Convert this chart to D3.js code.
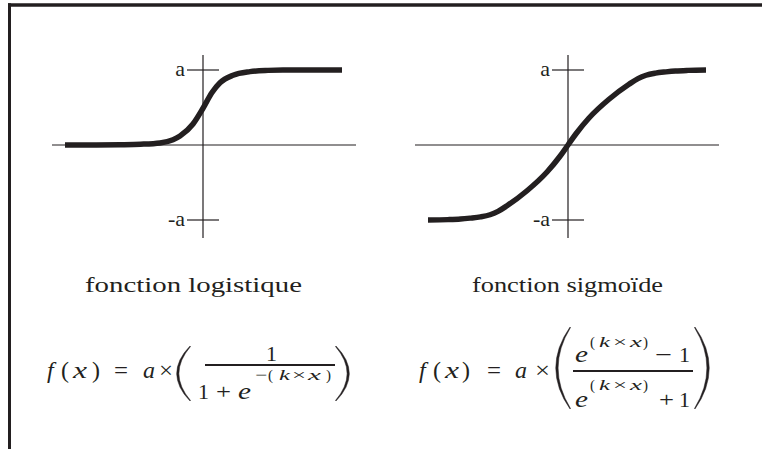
<!DOCTYPE html>
<html lang="fr">
<head>
<meta charset="utf-8">
<script src="https://d3js.org/d3.v7.min.js"></script>
<style>
  body { margin: 0; background: #fff; }
  text { font-family: "Liberation Serif", "Times New Roman", serif; fill: #231f20; }
  .it { font-style: italic; }
</style>
</head>
<body>
<div id="chart"></div>
<script>
// courbes (x en unités, y en fraction de a)
const logX = [-5.52, -4.4, -3.32, -2.5, -1.72, -1.2, -0.92, -0.4, 0, 0.36, 0.68, 1.2, 1.88, 2.6, 3.2, 5.56];
const logY = [0, 0.001, 0.004, 0.01, 0.027, 0.07, 0.12, 0.28, 0.49, 0.7, 0.83, 0.93, 0.978, 0.995, 1, 1];
const sigX = [-5.6, -4.8, -4.3, -3.92, -3.5, -3.12, -2.8, -2.44, -1.64, -0.84, -0.32, 0, 0.32, 0.84, 1.64, 2.44, 2.8, 3.12, 3.5, 3.92, 4.3, 4.8, 5.52];
const sigY = [-1, -0.995, -0.987, -0.975, -0.958, -0.93, -0.885, -0.81, -0.61, -0.36, -0.15, 0, 0.15, 0.36, 0.61, 0.81, 0.885, 0.93, 0.958, 0.975, 0.987, 0.995, 1];
const tickVals = [1, -1];
const tickLabels = ["a", "-a"];
const titles = ["fonction logistique", "fonction sigmoïde"];

const width = 762, height = 449;
const ink = "#231f20";

const svg = d3.select("#chart").append("svg")
  .attr("width", width)
  .attr("height", height);

// cadre (haut et gauche seulement)
svg.append("line").attr("x1", 8).attr("x2", width).attr("y1", 5).attr("y2", 5)
  .style("stroke", ink).style("stroke-width", 3.4);
svg.append("line").attr("x1", 9.5).attr("x2", 9.5).attr("y1", 3.3).attr("y2", height)
  .style("stroke", ink).style("stroke-width", 3);

const y = d3.scaleLinear().domain([-1, 1]).range([220, 70]);

const panels = [
  { x: d3.scaleLinear().domain([-6, 6]).range([53, 353]), xs: logX, ys: logY, ext: [-6.04, 6.12], title: titles[0], tx: 85, tw: 217 },
  { x: d3.scaleLinear().domain([-6, 6]).range([418, 718]), xs: sigX, ys: sigY, ext: [-6.12, 6.04], title: titles[1], tx: 472, tw: 191 }
];

panels.forEach(p => {
  const g = svg.append("g");
  const x = p.x;
  // axes
  g.append("line").attr("x1", x(p.ext[0])).attr("x2", x(p.ext[1]))
    .attr("y1", y(0)).attr("y2", y(0))
    .style("stroke", ink).style("stroke-width", 1.2);
  g.append("line").attr("x1", x(0)).attr("x2", x(0))
    .attr("y1", y(1.2)).attr("y2", y(-1.24))
    .style("stroke", ink).style("stroke-width", 1.2);
  // graduations a / -a
  tickVals.forEach((v, i) => {
    g.append("line").attr("x1", x(0) - 16).attr("x2", x(0) + 16)
      .attr("y1", y(v)).attr("y2", y(v))
      .style("stroke", ink).style("stroke-width", 1.2);
    g.append("text").attr("x", x(0) - 18).attr("y", y(v) + 6)
      .attr("text-anchor", "end").style("font-size", "22px")
      .text(tickLabels[i]);
  });
  // courbe
  const pts = p.xs.map((d, i) => [d, p.ys[i]]);
  const line = d3.line().curve(d3.curveMonotoneX)
    .x(d => x(d[0])).y(d => y(d[1]));
  g.append("path").datum(pts).attr("d", line)
    .style("fill", "none").style("stroke", ink).style("stroke-width", 5.5);
  // titre
  g.append("text").attr("x", p.tx).attr("y", 292)
    .attr("textLength", p.tw).attr("lengthAdjust", "spacingAndGlyphs")
    .style("font-size", "21px").text(p.title);
});

// helpers formule : chaque glyphe placé à part
function glyphs(list, yb, size) {
  list.forEach(([s, x, it, w]) => {
    const t = svg.append("text").attr("x", x).attr("y", yb)
      .style("font-size", size + "px").text(s);
    if (it) t.classed("it", true);
    if (w) t.attr("textLength", w).attr("lengthAdjust", "spacingAndGlyphs");
  });
}
function paren(x0, y0, y1, w, left) {
  // grande parenthèse fine en croissant
  const xe = left ? x0 + w : x0;
  const xm = left ? x0 : x0 + w;
  const ym = (y0 + y1) / 2;
  const cOut = left ? xm - w * 0.9 : xm + w * 0.9;
  const cIn = left ? xm - w * 0.62 : xm + w * 0.62;
  const dx = left ? 0.5 : -0.5;
  const d = `M${xe},${y0} Q${cOut},${ym} ${xe},${y1} L${xe + dx},${y1 - 0.5} Q${cIn},${ym} ${xe + dx},${y0 + 0.5} Z`;
  svg.append("path").attr("d", d).style("fill", ink).style("stroke", ink).style("stroke-width", 0.5);
}
function bar(x1, x2, yy) {
  svg.append("line").attr("x1", x1).attr("x2", x2).attr("y1", yy).attr("y2", yy)
    .style("stroke", ink).style("stroke-width", 1.8);
}

// formule logistique
glyphs([["f", 47, true], ["(", 61, false], ["x", 73, true, 14], [")", 92, false]], 378, 24);
glyphs([["=", 114, false, 14], ["a", 143, true, 12], ["×", 159, false, 14]], 378, 24);
paren(176, 346, 401, 14, true);
glyphs([["1", 266, false, 11]], 361, 22);
bar(205, 335, 365);
glyphs([["1", 198, false, 11], ["+", 216, false, 15]], 399, 22);
glyphs([["e", 238, true, 13]], 399, 24);
glyphs([["−", 255, false, 12], ["(", 268, false], ["k", 279, true, 11], ["×", 292, false, 14], ["x", 308, true, 13], [")", 326, false]], 380, 15);
paren(336, 346, 401, 14, false);

// formule sigmoïde
glyphs([["f", 419, true], ["(", 433, false], ["x", 445, true, 14], [")", 462, false]], 378, 24);
glyphs([["=", 487, false, 14], ["a", 515, true, 12], ["×", 535, false, 15]], 378, 24);
paren(555, 327, 409, 15, true);
glyphs([["e", 575, true, 13]], 362, 24);
glyphs([["(", 590, false], ["k", 599, true, 11], ["×", 613, false, 14], ["x", 630, true, 12], [")", 643, false]], 347, 15);
glyphs([["−", 655, false, 17], ["1", 679, false, 11]], 362, 22);
bar(573, 693, 371);
glyphs([["e", 575, true, 13]], 407, 24);
glyphs([["(", 590, false], ["k", 599, true, 11], ["×", 613, false, 14], ["x", 630, true, 12], [")", 643, false]], 390, 15);
glyphs([["+", 659, false, 15], ["1", 679, false, 11]], 407, 22);
paren(695, 327, 409, 15, false);
</script>
</body>
</html>
